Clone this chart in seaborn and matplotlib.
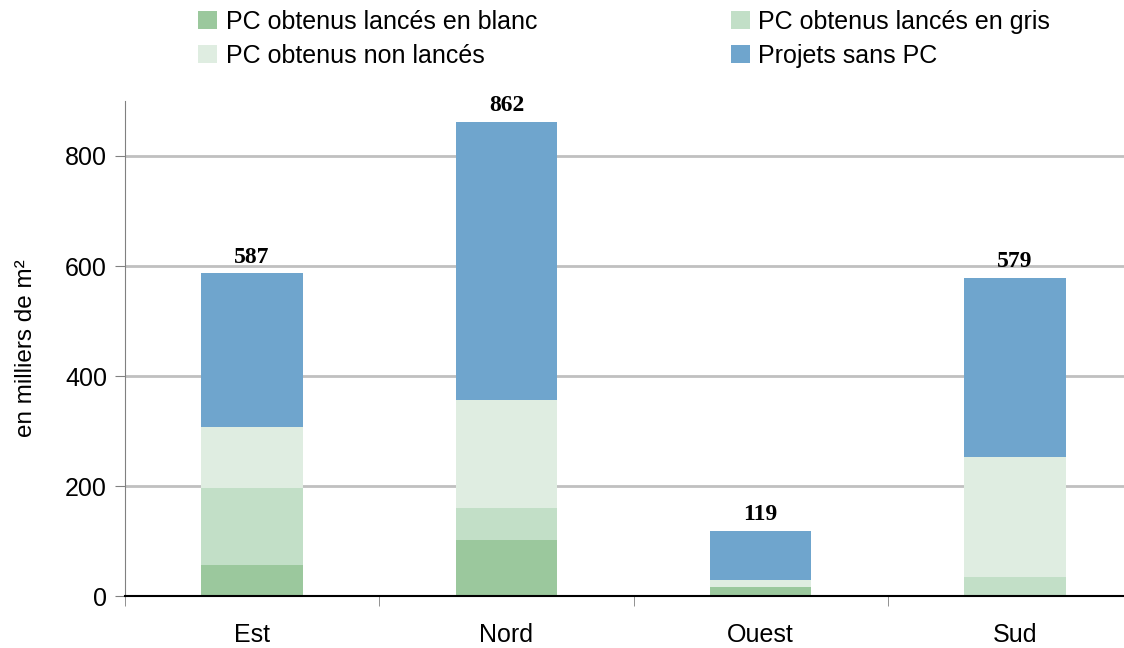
import numpy as np
import pandas as pd
import matplotlib
matplotlib.use("Agg")
import matplotlib.pyplot as plt
import seaborn as sns

zones = ["Est", "Nord", "Ouest", "Sud"]
pc_blanc = [56, 102, 16, 0]
pc_gris = [140, 58, 0, 35]
pc_non_lances = [111, 196, 14, 218]
sans_pc = [280, 506, 89, 326]
totaux = [587, 862, 119, 579]

series = {
    "PC obtenus lancés en blanc": (pc_blanc, "#9bc89d"),
    "PC obtenus lancés en gris": (pc_gris, "#c2dfc7"),
    "PC obtenus non lancés": (pc_non_lances, "#dfede1"),
    "Projets sans PC": (sans_pc, "#6fa5cd"),
}

sns.set_style("white")
plt.rcParams["font.family"] = ["Liberation Sans", "DejaVu Sans"]
plt.rcParams["text.color"] = "black"
plt.rcParams["axes.labelcolor"] = "black"
plt.rcParams["xtick.color"] = "black"
plt.rcParams["ytick.color"] = "black"

fig = plt.figure(figsize=(11.24, 6.48), dpi=100)
ax = fig.add_axes([125 / 1124, 52 / 648, 1017 / 1124, 495 / 648])

# barres empilees, une couche par serie
bottom = np.zeros(len(zones))
for name, (vals, col) in series.items():
    df = pd.DataFrame({"zone": zones, "val": vals})
    sns.barplot(data=df, x="zone", y="val", color=col, width=0.4,
                bottom=bottom, ax=ax, saturation=1, linewidth=0, label=name)
    bottom += np.array(vals)

h, l = ax.get_legend_handles_labels()
if ax.get_legend() is not None:
    ax.get_legend().remove()

for i, t in enumerate(totaux):
    ax.text(i, t + 10, str(t), ha="center", va="bottom", fontsize=17,
            fontweight="bold", family="Liberation Serif")

ax.set_xlim(-0.5, 3.5)
ax.set_ylim(0, 900)
ax.set_yticks([0, 200, 400, 600, 800])
ax.yaxis.grid(True, color="#c0c0c0", linewidth=2)
ax.set_axisbelow(True)
ax.set_xlabel("")
ax.set_ylabel("en milliers de m²", fontsize=17.5, labelpad=20)
ax.tick_params(axis="y", labelsize=18, left=True, length=7, color="#808080", pad=6)
ax.tick_params(axis="x", labelsize=18, bottom=False, pad=16)
ax.set_xticks([-0.5, 0.5, 1.5, 2.5, 3.5], minor=True)
ax.tick_params(axis="x", which="minor", bottom=True, length=7, color="#808080")
for s in ["top", "right"]:
    ax.spines[s].set_visible(False)
ax.spines["left"].set_color("#808080")
ax.spines["bottom"].set_color("black")
ax.spines["bottom"].set_linewidth(1.5)

order = [0, 2, 1, 3]
fig.legend([h[i] for i in order], [l[i] for i in order], ncol=2,
           loc="upper left", bbox_to_anchor=(198 / 1124, 1 - 10 / 648), frameon=False,
           fontsize=18, handlelength=0.75, handleheight=0.75, handletextpad=0.35,
           columnspacing=7.75, labelspacing=0.4, borderaxespad=0, borderpad=0)

plt.savefig("out.png", dpi=100)
